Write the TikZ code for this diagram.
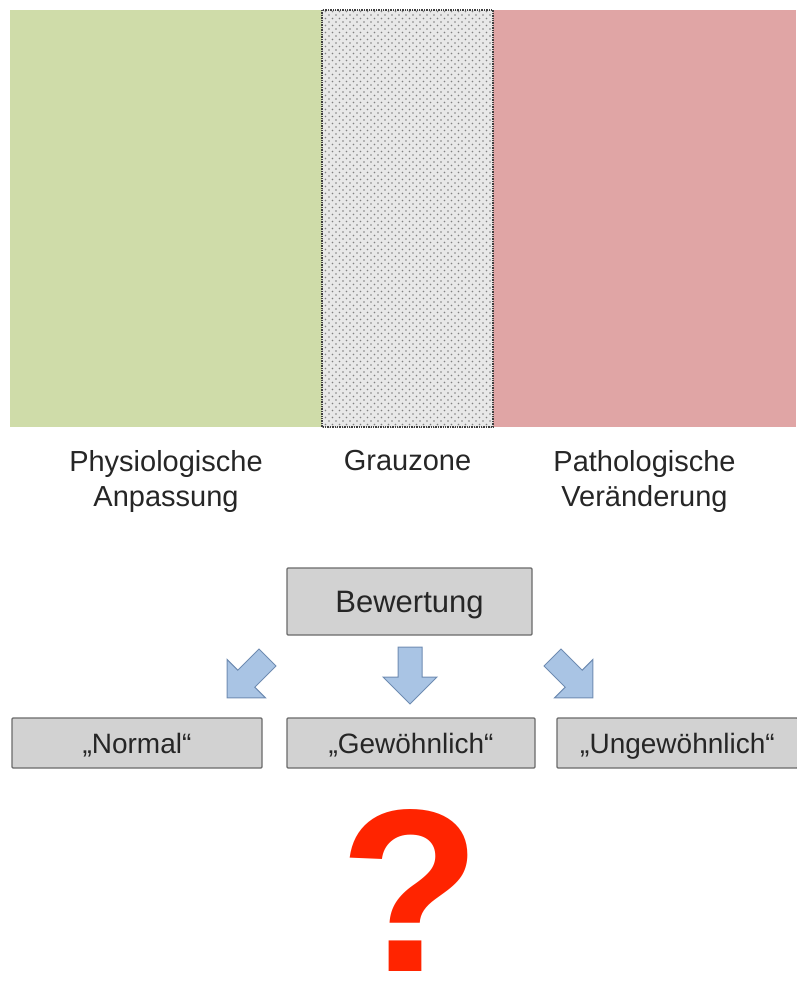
\documentclass[tikz,border=0pt]{standalone}
\usepackage{fontspec}
\setmainfont{Liberation Sans}
\usetikzlibrary{positioning,patterns.meta}
\definecolor{physgreen}{HTML}{CFDCA9}
\definecolor{pathred}{HTML}{E0A5A5}
\definecolor{zonegray}{HTML}{E8E8E8}
\definecolor{boxgray}{HTML}{D2D2D2}
\definecolor{boxline}{HTML}{6A6A6A}
\definecolor{arrowblue}{HTML}{A9C4E4}
\definecolor{arrowline}{HTML}{6F8CB2}
\definecolor{qred}{HTML}{FF2400}
\begin{document}
\begin{tikzpicture}[x=1pt, y=-1pt,
	zone/.style={anchor=north west, inner sep=0pt, outer sep=0pt, minimum height=417pt},
	zonelabel/.style={anchor=north, inner sep=0pt, align=center, font=\fontsize{29}{35}\selectfont, text=black!85},
	greybox/.style={draw=boxline, line width=1.2pt, fill=boxgray, rounded corners=1pt, inner sep=0pt, text depth=0pt, text=black!85},
	blockarrow/.style={draw=arrowline, line width=1pt, fill=arrowblue, line join=miter}]
	\useasboundingbox (0,0) rectangle (796,988);
	
	\node[zone, fill=physgreen, minimum width=312pt] (physio) at (10,10) {};
	\node[zone, fill=zonegray, minimum width=171pt] (grau) at (322,10) {};
	\node[zone, fill=pathred, minimum width=303pt] (patho) at (493,10) {};
	\fill[pattern={Dots[distance=7pt, radius=.9pt]}, pattern color=black!50] (grau.north west) rectangle (grau.south east);
	\fill[pattern={Dots[distance=7pt, radius=.9pt, xshift=3.5pt, yshift=3.5pt]}, pattern color=black!50] (grau.north west) rectangle (grau.south east);
	\draw[densely dotted, black!75, line width=1.4pt] (grau.north west) rectangle (grau.south east);
	
	\node[zonelabel, below=23pt of physio] (physiotext) {Physiologische\\Anpassung};
	\node[zonelabel, below=23pt of grau] (grautext) {Grauzone};
	\node[zonelabel, below=23pt of patho] (pathotext) {Pathologische\\Veränderung};
	
	\node[greybox, minimum width=245pt, minimum height=67pt, font=\fontsize{31}{36}\selectfont] (bewertung) at (409.5,601.5) {Bewertung};
	
	\foreach \px/\py/\ang in {247/678/-45, 410/676/0, 573/678/45}
	\draw[blockarrow, shift={(\px,\py)}, rotate=\ang] (-12,-29) -- (12,-29) -- (12,1) -- (27,1) -- (0,28) -- (-27,1) -- (-12,1) -- cycle;
	
	\node[greybox, minimum width=250pt, minimum height=50pt, font=\fontsize{28}{32}\selectfont] (normal) at (137,743) {„Normal“};
	\node[greybox, minimum width=248pt, minimum height=50pt, font=\fontsize{28}{32}\selectfont] (gewoehnlich) at (411,743) {„Gewöhnlich“};
	\node[greybox, minimum width=241pt, minimum height=50pt, font=\fontsize{28}{32}\selectfont] (ungewoehnlich) at (677.5,743) {„Ungewöhnlich“};
	
	\node[text=qred, inner sep=0pt, font=\bfseries\fontsize{232}{236}\selectfont] (frage) at (410,890) {?};
\end{tikzpicture}
\end{document}
